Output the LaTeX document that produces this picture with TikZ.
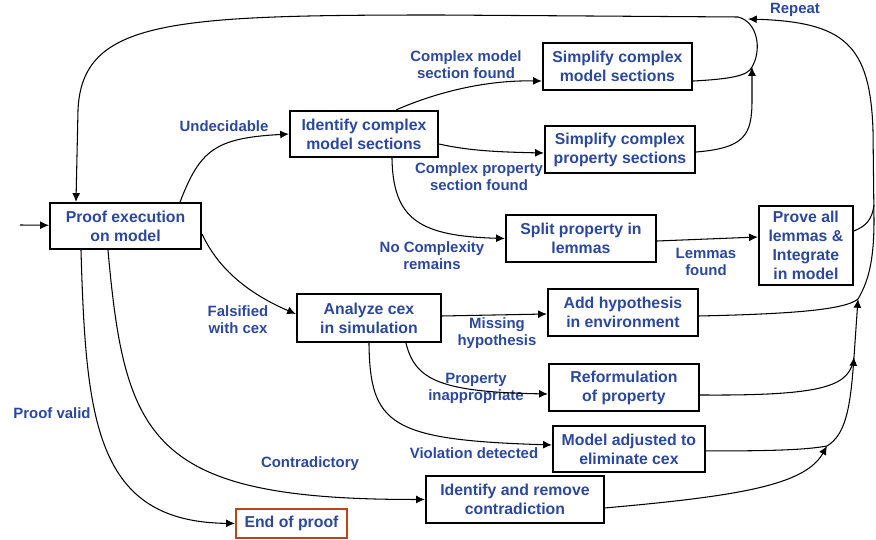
\documentclass[tikz,border=0pt]{standalone}
\usepackage{fontspec}
\setmainfont{Liberation Sans}
\usepackage{xcolor}
\usepackage{tikz}
\usetikzlibrary{arrows.meta,calc,positioning}
\definecolor{txtblue}{RGB}{44,72,155}
\definecolor{endred}{RGB}{185,70,25}

\begin{document}
\begin{tikzpicture}[x=0.02cm, y=-0.02cm, >={Latex[length=5pt,width=4.5pt]},
  stepbox/.style={draw, very thick, fill=white, text=txtblue, font=\bfseries\fontsize{9}{10.8}\selectfont, align=center, inner sep=2pt},
  lbl/.style={text=txtblue, font=\bfseries\fontsize{8.5}{9.7}\selectfont, align=center, inner sep=0pt}]

\useasboundingbox (0,0) rectangle (876,540);
\coordinate(O1) at (0,0);

\node[below right=4.04cm and 0.98cm of O1, stepbox, minimum width=3.02cm, minimum height=0.92cm](exec) {Proof execution\\on model};
\node[below right=2.2cm and 5.78cm of O1, stepbox, minimum width=2.96cm, minimum height=0.92cm](ident) {Identify complex\\model sections};
\node[below right=0.84cm and 10.84cm of O1, stepbox, minimum width=2.98cm, minimum height=0.94cm](simpM) {Simplify complex\\model sections};
\node[below right=2.5cm and 10.88cm of O1, stepbox, minimum width=3cm, minimum height=0.94cm](simpP) {Simplify complex\\property sections};
\node[below right=4.28cm and 10.1cm of O1, stepbox, minimum width=3cm, minimum height=0.94cm](split) {Split property in\\lemmas};
\node[below right=4.1cm and 15.16cm of O1, stepbox, minimum width=1.88cm, minimum height=1.58cm, inner sep=1pt](prove) {Prove all\\lemmas \&\\Integrate\\in model};

\node[below right=5.86cm and 5.92cm of O1, stepbox, minimum width=2.88cm, minimum height=0.96cm](analyze) {Analyze cex\\in simulation};
\node[below right=5.76cm and 10.94cm of O1, stepbox, minimum width=3cm, minimum height=0.94cm](addH) {Add hypothesis\\in environment};
\node[below right=7.26cm and 10.96cm of O1, stepbox, minimum width=3cm, minimum height=0.94cm](reform) {Reformulation\\of property};
\node[below right=8.5cm and 11.04cm of O1, stepbox, minimum width=3.04cm, minimum height=0.92cm](modelAdj) {Model adjusted to\\eliminate cex};
\node[below right=9.5cm and 8.5cm of O1, stepbox, minimum width=3.56cm, minimum height=0.94cm](contra) {Identify and remove\\contradiction};
\node[below right=10.16cm and 4.7cm of O1, stepbox, draw=endred, minimum width=2.22cm, minimum height=0.58cm](endp) {End of proof};

\node[lbl](undec) at (224,126) {Undecidable};
\node[lbl](cmsf) at (466,65) {Complex model\\section found};
\node[lbl](cpsf) at (479,177) {Complex property\\section found};
\node[lbl](nocx) at (432,256) {No Complexity\\remains};
\node[lbl](lemf) at (706,262) {Lemmas\\found};
\node[lbl](rep) at (795,10) {Repeat};
\node[lbl](fals) at (238,320) {Falsified\\with cex};
\node[lbl](miss) at (497,333) {Missing\\hypothesis};
\node[lbl](inap) at (476,388) {Property\\inappropriate};
\node[lbl](viol) at (474,453) {Violation detected};
\node[lbl](contr) at (310,464) {Contradictory};
\node[lbl](valid) at (52,413) {Proof valid};

\coordinate(start) at (20,225);
\coordinate(mergeS) at (752,67);
\coordinate(repeatEnd) at (748,19);
\coordinate(rightJ) at (874,205);
\coordinate(mergeA) at (858,299);
\coordinate(mergeB) at (854,357);
\coordinate(mergeC) at (827,446);

\draw[->, semithick] (start) -- (exec);
\draw[->, semithick] ([xshift=-0.44cm]exec.north east) .. controls (200,150) and (215,138) .. (ident.west);
\draw[->, semithick] ([xshift=0.64cm]ident.north) .. controls (430,95) and (480,80) .. ([yshift=-0.29cm]simpM.west);
\draw[->, semithick] ([yshift=-0.2cm]ident.east) .. controls (470,151) and (500,152) .. ([yshift=-0.07cm]simpP.west);
\draw[->, semithick] ([xshift=0.56cm]ident.south) .. controls (393,220) and (420,236) .. (split.west);
\draw[->, semithick] ([yshift=-0.05cm]split.east) -- ([yshift=0.17cm]prove.west);

\draw[semithick] ([yshift=-0.29cm]simpM.east) .. controls (730,79) and (748,76) .. (mergeS);
\draw[->, semithick] ([yshift=-0.05cm]simpP.east) .. controls (745,148) and (752,135) .. (752,100) -- (mergeS);
\draw[->, semithick] (mergeS) .. controls (762,50) and (758,22) .. (738,17) -- (440,15) .. controls (170,15) and (82,20) .. (78,110) -- ([xshift=0.54cm]exec.north west);

\draw[semithick] ([yshift=0.29cm]prove.east) .. controls (866,226) and (872,220) .. (rightJ);
\draw[->, semithick] (mergeA) .. controls (868,282) and (874,262) .. (874,220) -- (873,130) .. controls (870,45) and (845,22) .. (repeatEnd);

\draw[semithick] ([yshift=-0.07cm]addH.east) .. controls (790,314) and (845,310) .. (mergeA);
\draw[->, semithick] (mergeB) -- (mergeA);
\draw[semithick] ([yshift=-0.15cm]reform.east) .. controls (830,396) and (850,385) .. (mergeB);
\draw[->, semithick] (mergeC) .. controls (845,435) and (850,410) .. (mergeB);
\draw[semithick] ([yshift=-0.04cm]modelAdj.east) .. controls (770,451) and (805,450) .. (mergeC);
\draw[->, semithick] ([yshift=-0.17cm]contra.east) .. controls (740,496) and (805,485) .. (mergeC);

\draw[->, semithick] ([yshift=-0.16cm]exec.east) .. controls (215,262) and (240,290) .. ([yshift=0.08cm]analyze.west);
\draw[->, semithick] ([xshift=0.64cm]exec.south west) .. controls (86,420) and (95,522) .. (endp.west);
\draw[->, semithick] ([xshift=1.18cm]exec.south west) .. controls (125,440) and (150,500) .. (contra.west);

\draw[->, semithick] ([yshift=0.04cm]analyze.east) -- ([yshift=-0.03cm]addH.west);
\draw[->, semithick] ([xshift=0.74cm]analyze.south) .. controls (415,380) and (440,392) .. ([yshift=-0.13cm]reform.west);
\draw[->, semithick] (analyze.south) .. controls (370,425) and (390,440) .. ([yshift=0.08cm]modelAdj.west);
\end{tikzpicture}
\end{document}
